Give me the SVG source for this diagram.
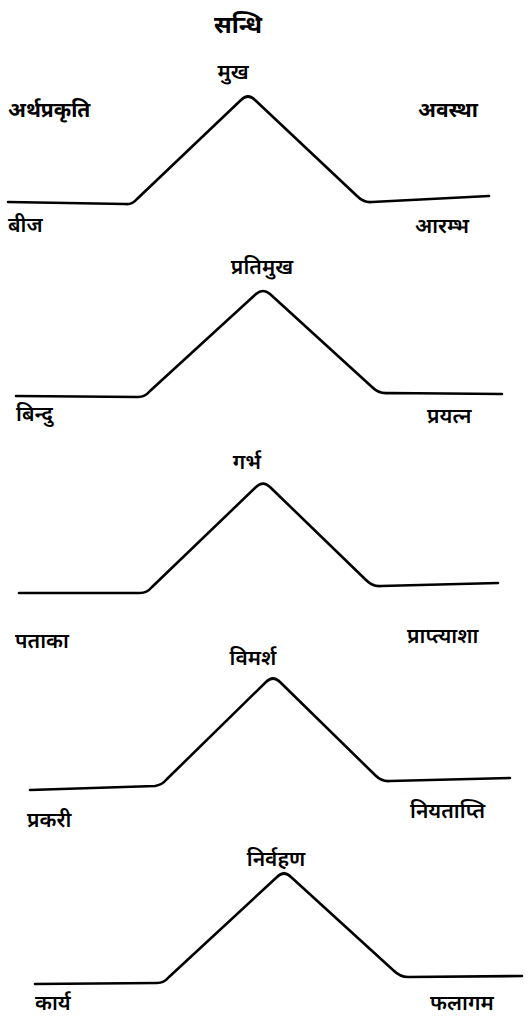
<svg xmlns="http://www.w3.org/2000/svg" width="532" height="1019" viewBox="0 0 532 1019">
<style>
  .curve { fill: none; stroke: #000; stroke-width: 2.6; stroke-linejoin: round; stroke-linecap: round; }
  text { font-family: "Noto Sans Devanagari", "Noto Sans", "DejaVu Sans", sans-serif; fill: #000; }
  .title { font-size: 24px; font-weight: bold; }
  .head { font-size: 21px; font-weight: bold; }
  .peak { font-size: 21px; font-weight: 600; }
  .lbl { font-size: 21px; font-weight: 600; }
  .mid { text-anchor: middle; }
</style>
<rect width="532" height="1019" fill="#fff"/>
<g id="header">
  <text class="title mid" x="238" y="33">सन्धि</text>
  <text class="head" x="8" y="117">अर्थप्रकृति</text>
  <text class="head" x="418" y="117">अवस्था</text>
</g>
<g id="connectors">
  <path class="curve" d="M8,202 L125,204 Q132,205 137,199 L241,100 Q248,93 255,100 L357,196 Q364,203 372,202 L489,196"/>
  <path class="curve" d="M16,396 L138,397 Q145,397 150,391 L256,294 Q263,288 270,294 L372,387 Q379,394 388,393 L502,394"/>
  <path class="curve" d="M19,593 L140,593 Q147,593 152,587 L256,487 Q263,480 270,487 L366,580 Q373,587 381,586 L498,583"/>
  <path class="curve" d="M30,790 L155,786 Q162,785 167,779 L266,682 Q273,675 280,682 L375,775 Q382,782 390,781 L510,778"/>
  <path class="curve" d="M35,984 L157,983 Q164,983 169,977 L277,877 Q284,870 291,877 L393,970 Q400,977 408,977 L522,976"/>
</g>
<g id="mukha">
  <text class="peak mid" x="233" y="79">मुख</text>
  <text class="lbl" x="8" y="232">बीज</text>
  <text class="lbl" x="415" y="233">आरम्भ</text>
</g>
<g id="pratimukha">
  <text class="peak mid" x="262" y="274">प्रतिमुख</text>
  <text class="lbl" x="16" y="421">बिन्दु</text>
  <text class="lbl" x="427" y="423">प्रयत्न</text>
</g>
<g id="garbha">
  <text class="peak mid" x="247" y="469">गर्भ</text>
  <text class="lbl" x="15" y="648">पताका</text>
  <text class="lbl" x="407" y="643">प्राप्त्याशा</text>
</g>
<g id="vimarsha">
  <text class="peak mid" x="253" y="665">विमर्श</text>
  <text class="lbl" x="27" y="827">प्रकरी</text>
  <text class="lbl" x="410" y="818">नियताप्ति</text>
</g>
<g id="nirvahana">
  <text class="peak mid" x="276" y="866">निर्वहण</text>
  <text class="lbl" x="35" y="1010">कार्य</text>
  <text class="lbl" x="430" y="1010">फलागम</text>
</g>
</svg>
